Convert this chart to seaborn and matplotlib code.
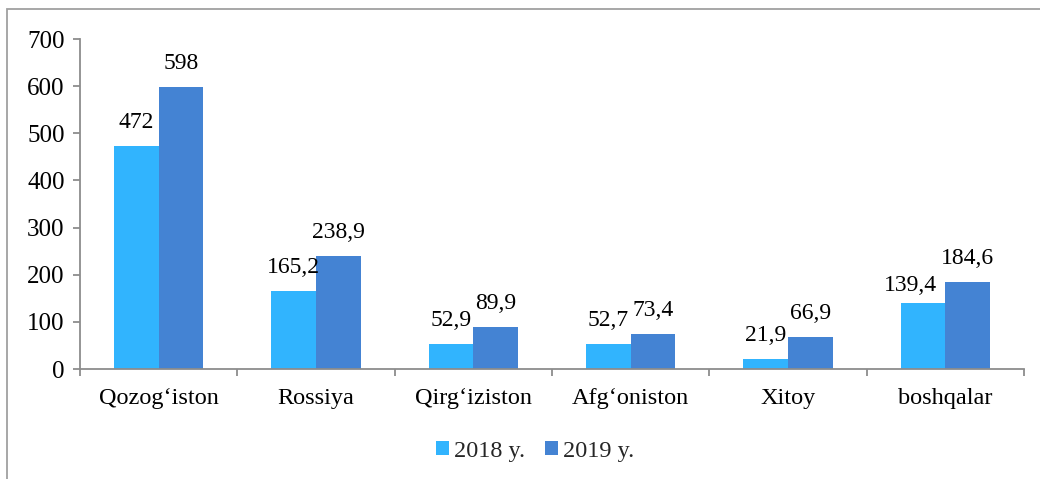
import matplotlib
matplotlib.use("Agg")
import matplotlib.pyplot as plt
from matplotlib.patches import Rectangle
import pandas as pd
import seaborn as sns

# Export volumes by destination country
countries = ["Qozog\u2018iston", "Rossiya", "Qirg\u2018iziston", "Afg\u2018oniston", "Xitoy", "boshqalar"]
years = ["2018 y.", "2019 y."]
values_2018 = [472, 165.2, 52.9, 52.7, 21.9, 139.4]
values_2019 = [598, 238.9, 89.9, 73.4, 66.9, 184.6]
y_ticks = [0, 100, 200, 300, 400, 500, 600, 700]

colors = ["#31B4FE", "#4483D3"]

df = pd.DataFrame({
    "country": countries * 2,
    "year": [years[0]] * len(countries) + [years[1]] * len(countries),
    "value": values_2018 + values_2019,
})

sns.set_theme(style="white")
plt.rcParams["font.family"] = ["Liberation Serif", "DejaVu Serif"]

fig = plt.figure(figsize=(10.4, 4.79), dpi=100)
ax = fig.add_axes([80 / 1040, 1 - 369 / 479, 944 / 1040, 330 / 479])

sns.barplot(data=df, x="country", y="value", hue="year", order=countries,
            hue_order=years, palette=colors, saturation=1, width=0.566,
            edgecolor="none", linewidth=0, ax=ax)

ax.set_ylim(0, 700)
ax.set_xlim(-0.5, len(countries) - 0.5)
ax.set_yticks(y_ticks)
ax.set_yticklabels([str(t) for t in y_ticks], fontsize=18, color="black")

# Category names centred under groups, tick marks between groups
ax.set_xticks([i - 0.5 for i in range(len(countries) + 1)])
ax.set_xticklabels([])
ax.set_xticks(range(len(countries)), minor=True)
ax.set_xticklabels(countries, minor=True, fontsize=17.5, color="black")
ax.tick_params(axis="x", which="minor", length=0, pad=14)
ax.tick_params(axis="x", which="major", length=5, width=1.3, color="#8C8C8C", direction="out", bottom=True)
ax.tick_params(axis="y", length=5, width=1.3, color="#8C8C8C", direction="out", left=True, pad=6)

ax.set_xlabel("")
ax.set_ylabel("")
for side in ["top", "right"]:
    ax.spines[side].set_visible(False)
for side in ["left", "bottom"]:
    ax.spines[side].set_color("#8C8C8C")
    ax.spines[side].set_linewidth(1.3)
ax.grid(False)

# Value labels above each bar
def fmt(v):
    return str(int(v)) if float(v).is_integer() else f"{v:.1f}".replace(".", ",")

label_shift = {(0, 5): (-9, 13)}
for s, (container, vals) in enumerate(zip(ax.containers, [values_2018, values_2019])):
    for i, (patch, v) in enumerate(zip(container.patches, vals)):
        dx, dy = label_shift.get((s, i), (0, 17))
        ax.annotate(fmt(v), (patch.get_x() + patch.get_width() / 2, v),
                    xytext=(dx, dy), textcoords="offset points",
                    ha="center", va="center", fontsize=17, color="black")

# Legend below the plot
handles, labels = ax.get_legend_handles_labels()
ax.legend_.remove()
fig.legend(handles, labels, loc="center", bbox_to_anchor=(535 / 1040, 1 - 451 / 479),
           ncol=2, frameon=False, fontsize=17.5, handlelength=0.55, handleheight=0.55,
           handletextpad=0.2, columnspacing=0.8)

# Outer chart border
fig.patches.append(Rectangle((7 / 1040, -0.1), 1.2, 1 - 9 / 479 + 0.1,
                             transform=fig.transFigure, fill=False,
                             edgecolor="#A0A0A0", linewidth=1.3))

fig.savefig("out.png", dpi=100)
